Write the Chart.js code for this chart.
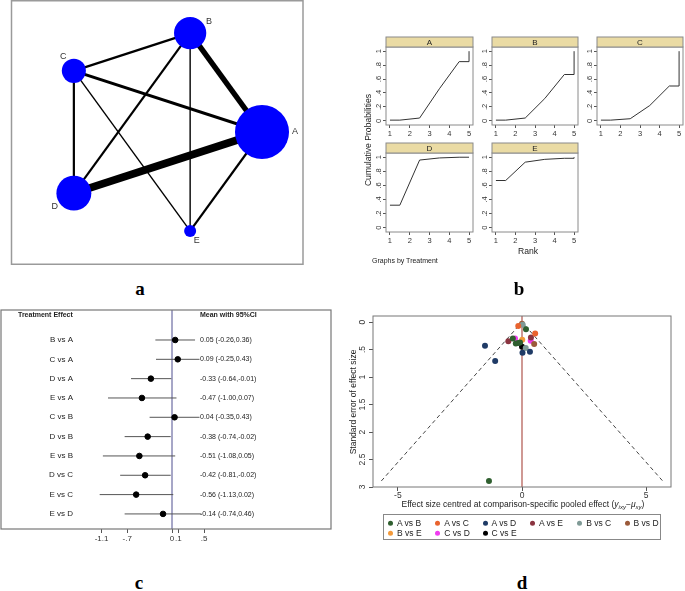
<!DOCTYPE html>
<html><head><meta charset="utf-8">
<script src="https://cdn.jsdelivr.net/npm/chart.js@4.4.1/dist/chart.umd.min.js"></script>
<style>
html,body{margin:0;padding:0;background:#fff;}
body{width:685px;height:591px;position:relative;overflow:hidden;font-family:"Liberation Sans",Arial,sans-serif;color:#222;}
.cv{position:absolute;}
.t{position:absolute;white-space:nowrap;line-height:1;}
.rot{transform:translate(-50%,-50%) rotate(-90deg);}
.ctr{transform:translate(-50%,-50%);}
.lab{position:absolute;font-family:"Liberation Serif","Times New Roman",serif;font-weight:bold;font-size:19px;line-height:1;transform:translate(-50%,-50%);color:#000;}
#legend{position:absolute;left:383px;top:514px;width:278px;height:26px;border:1px solid #888;box-sizing:border-box;}
.li{position:absolute;font-size:8.5px;white-space:nowrap;line-height:1;transform:translateY(-50%);}
.li i{display:inline-block;width:5px;height:5px;border-radius:50%;margin-right:4px;vertical-align:0px;}
</style></head><body>

<canvas id="net" class="cv" style="left:0;top:0" width="310" height="270"></canvas>
<canvas id="rA" class="cv"></canvas>
<canvas id="rB" class="cv"></canvas>
<canvas id="rC" class="cv"></canvas>
<canvas id="rD" class="cv"></canvas>
<canvas id="rE" class="cv"></canvas>
<canvas id="forest" class="cv" style="left:0;top:308px" width="335" height="241"></canvas>
<canvas id="funnel" class="cv" style="left:340px;top:305px" width="345" height="200"></canvas>

<div class="t rot" style="left:368px;top:140px;font-size:8.6px">Cumulative Probabilities</div>
<div class="t ctr" style="left:528px;top:251px;font-size:8.6px">Rank</div>
<div class="t" style="left:372px;top:257px;font-size:7px">Graphs by Treatment</div>
<div class="t rot" style="left:353px;top:402px;font-size:8.5px">Standard error of effect size</div>
<div class="t ctr" style="left:523px;top:505px;font-size:8.5px">Effect size centred at comparison-specific pooled effect (<i>y<sub style="font-size:6px">ixy</sub></i>−<i>μ<sub style="font-size:6px">xy</sub></i>)</div>
<div id="legend"></div>

<div class="lab" style="left:140px;top:288px">a</div>
<div class="lab" style="left:519px;top:288px">b</div>
<div class="lab" style="left:139px;top:582px">c</div>
<div class="lab" style="left:522px;top:582px">d</div>

<script>
// ---------- DATA ----------
const treatments = ['A','B','C','D','E'];
const nodeParticipants = [730, 260, 145, 305, 36];
const edgeFrom = ['A','A','A','A','B','B','B','C','C'];
const edgeTo   = ['B','C','D','E','C','D','E','D','E'];
const edgeStudies = [6, 3, 9, 2, 2, 2, 1, 2, 1];

const rankPositions = [1, 2, 3, 4, 5];
const cumA = [0.01, 0.04, 0.46, 0.85, 1.00];
const cumB = [0.01, 0.04, 0.32, 0.665, 1.00];
const cumC = [0.01, 0.03, 0.22, 0.50, 1.00];
const cumD = [0.32, 0.96, 0.99, 1.00, 1.00];
const cumE = [0.67, 0.93, 0.97, 0.985, 1.00];
const probTicks = [0, 0.2, 0.4, 0.6, 0.8, 1];
const probTickLabels = ['0', '.2', '.4', '.6', '.8', '1'];

const comparisons = ['B vs A','C vs A','D vs A','E vs A','C vs B','D vs B','E vs B','D vs C','E vs C','E vs D'];
const meanEffect = [0.05, 0.09, -0.33, -0.47, 0.04, -0.38, -0.51, -0.42, -0.56, -0.14];
const lowerCI = [-0.26, -0.25, -0.64, -1.00, -0.35, -0.74, -1.08, -0.81, -1.13, -0.74];
const upperCI = [0.36, 0.43, -0.01, 0.07, 0.43, -0.02, 0.05, -0.02, 0.02, 0.46];
const forestTicks = [-1.1, -0.7, 0, 0.1, 0.5];
const forestTickLabels = ['-1.1', '-.7', '0', '.1', '.5'];

const funnelGroups = ['A vs B','A vs C','A vs D','A vs E','B vs C','B vs D','B vs E','C vs D','C vs E'];
const funnelX = [
  [-1.33, 0.16, -0.37, -0.25, -0.15, -0.08],
  [-0.15, 0.53],
  [-1.49, -1.08, 0.02, 0.32],
  [-0.55, 0.36],
  [0.03, 0.15],
  [0.00, 0.49],
  [0.01],
  [-0.28, 0.35],
  [0.00]
];
const funnelSE = [
  [2.89, 0.13, 0.30, 0.39, 0.38, 0.37],
  [0.07, 0.21],
  [0.43, 0.71, 0.56, 0.54],
  [0.35, 0.28],
  [0.05, 0.47],
  [0.03, 0.40],
  [0.32],
  [0.30, 0.34],
  [0.45]
];
const funnelYTicks = [0, 0.5, 1, 1.5, 2, 2.5, 3];
const funnelYLabels = ['0', '.5', '1', '1.5', '2', '2.5', '3'];
const funnelXTicks = [-5, 0, 5];
const funnelXLabels = ['-5', '0', '5'];

// ---------- STYLE ----------
const groupColors = ['#2f5f2f','#e9632e','#1f3b66','#8a3440','#7f9a96','#9b5a3a','#f39a3b','#f03cf0','#000000'];
const FONT = '"Liberation Sans", Arial, sans-serif';
Chart.defaults.font.family = FONT;
Chart.defaults.color = '#333';
Chart.defaults.animation = false;
Chart.defaults.responsive = false;
Chart.defaults.devicePixelRatio = 1;
Chart.defaults.layout.autoPadding = false;
Chart.defaults.plugins.legend.display = false;
Chart.defaults.plugins.tooltip.enabled = false;

function boxPlugin(color, width){
  return {id:'box'+Math.floor(Math.random()*1e6), afterDraw(chart){
    const a = chart.chartArea, c = chart.ctx;
    c.save(); c.strokeStyle = color; c.lineWidth = width;
    c.strokeRect(a.left, a.top, a.right - a.left, a.bottom - a.top);
    c.restore();
  }};
}
function fixedTicks(vals){ return s => { s.ticks = vals.map(v => ({value: v})); }; }

// ---------- (a) NETWORK ----------
(function(){
  const idx = t => treatments.indexOf(t);
  const pos = treatments.map((t, i) => ({x: Math.cos(2*Math.PI*i/5), y: Math.sin(2*Math.PI*i/5)}));
  const ds = [{
    type: 'bubble',
    data: treatments.map((t, i) => ({x: pos[i].x, y: pos[i].y, r: Math.sqrt(nodeParticipants[i])})),
    backgroundColor: '#0000ff', borderColor: '#0000ff', borderWidth: 0
  }];
  edgeFrom.forEach((f, k) => {
    ds.push({type: 'line', data: [pos[idx(f)], pos[idx(edgeTo[k])]],
      borderColor: '#000', borderWidth: 0.8*edgeStudies[k] + 0.6, pointRadius: 0, fill: false});
  });
  const labelAngles = [0, 31, 126, 215, 303];
  new Chart(document.getElementById('net'), {
    type: 'scatter',
    data: {datasets: ds},
    options: {
      layout: {padding: 0, autoPadding: false},
      scales: {
        x: {display: false, min: -158/104, max: 152/104},
        y: {display: false, min: -138/104, max: 132/104}
      }
    },
    plugins: [{id: 'netdeco',
      beforeDraw(chart){
        const c = chart.ctx; c.save(); c.strokeStyle = '#9a9a9a'; c.lineWidth = 1.5;
        c.strokeRect(11.5, 0.75, 291.5, 263.5); c.restore();
      },
      afterDatasetsDraw(chart){
        const c = chart.ctx, meta = chart.getDatasetMeta(0);
        c.save(); c.fillStyle = '#333'; c.font = '9px ' + FONT;
        c.textAlign = 'center'; c.textBaseline = 'middle';
        meta.data.forEach((el, i) => {
          const d = Math.sqrt(nodeParticipants[i]) + 6, a = labelAngles[i]*Math.PI/180;
          c.fillText(treatments[i], el.x + d*Math.cos(a), el.y - d*Math.sin(a));
        });
        c.restore();
      }}]
  });
})();

// ---------- (b) RANKOGRAMS ----------
const rankPanels = [
  {id: 'rA', name: 'A', v: cumA, left: 386, top: 47,  w: 87, h: 78},
  {id: 'rB', name: 'B', v: cumB, left: 492, top: 47,  w: 86, h: 78},
  {id: 'rC', name: 'C', v: cumC, left: 597, top: 47,  w: 86, h: 78},
  {id: 'rD', name: 'D', v: cumD, left: 386, top: 153, w: 87, h: 79},
  {id: 'rE', name: 'E', v: cumE, left: 492, top: 153, w: 86, h: 79}
];
function stepPoints(c){
  const r = rankPositions, pts = [{x: r[0], y: c[0]}];
  for (let i = 0; i < r.length - 1; i++) pts.push({x: (r[i] + r[i+1]) / 2, y: c[i]});
  pts.push({x: r[r.length-1], y: c[c.length-2]});
  pts.push({x: r[r.length-1], y: c[c.length-1]});
  return pts;
}
rankPanels.forEach(p => {
  const cv = document.getElementById(p.id);
  const L = 24, T = 11, R = 2, B = 17;
  cv.width = p.w + L + R; cv.height = p.h + T + B;
  cv.style.left = (p.left - L) + 'px'; cv.style.top = (p.top - T) + 'px';
  new Chart(cv, {
    type: 'scatter',
    data: {datasets: [{type: 'line', data: stepPoints(p.v), borderColor: '#333', borderWidth: 1, pointRadius: 0, tension: 0}]},
    options: {
      layout: {padding: {left: 0, top: T, right: R, bottom: 0}},
      scales: {
        x: {type: 'linear', min: 0.8, max: 5.2, afterBuildTicks: fixedTicks(rankPositions),
            ticks: {font: {size: 7.5}, color: '#333', padding: 1, maxRotation: 0, autoSkip: false},
            grid: {display: true, drawOnChartArea: false, tickLength: 3, color: '#555'},
            border: {display: false}, afterFit: s => { s.height = B; }},
        y: {type: 'linear', min: -0.06, max: 1.06, afterBuildTicks: fixedTicks(probTicks),
            ticks: {font: {size: 7.5}, color: '#333', padding: 1, minRotation: 90, maxRotation: 90, crossAlign: 'center', autoSkip: false,
                    callback: (v, i) => probTickLabels[i]},
            grid: {display: true, drawOnChartArea: false, tickLength: 3, color: '#555'},
            border: {display: false}, afterFit: s => { s.width = L; }}
      }
    },
    plugins: [boxPlugin('#8a8a8a', 1), {id: 'hdr', afterDraw(chart){
      const a = chart.chartArea, c = chart.ctx;
      c.save(); c.fillStyle = '#eadba4'; c.strokeStyle = '#8a8a8a'; c.lineWidth = 1;
      c.fillRect(a.left, a.top - 10, a.right - a.left, 10);
      c.strokeRect(a.left, a.top - 10, a.right - a.left, 10);
      c.fillStyle = '#222'; c.font = '8px ' + FONT; c.textAlign = 'center'; c.textBaseline = 'middle';
      c.fillText(p.name, (a.left + a.right)/2, a.top - 4.5);
      c.restore();
    }}]
  });
});

// ---------- (c) FOREST ----------
(function(){
  const ds = [{type: 'scatter', data: meanEffect.map((m, i) => ({x: m, y: i})), backgroundColor: '#000', borderColor: '#000', pointRadius: 2.8}];
  comparisons.forEach((c, i) => {
    ds.push({type: 'line', data: [{x: lowerCI[i], y: i}, {x: upperCI[i], y: i}], borderColor: '#555', borderWidth: 1, pointRadius: 0});
  });
  new Chart(document.getElementById('forest'), {
    type: 'scatter',
    data: {datasets: ds},
    options: {
      layout: {padding: {left: 1, top: 2, right: 4, bottom: 0}},
      scales: {
        x: {type: 'linear', min: -171/64, max: 159/64, afterBuildTicks: fixedTicks(forestTicks),
            ticks: {font: {size: 8}, color: '#333', padding: 1, maxRotation: 0, minRotation: 0, autoSkip: false,
                    callback: (v, i) => forestTickLabels[i]},
            grid: {display: true, drawOnChartArea: false, tickLength: 4, color: '#555'},
            border: {display: false}, afterFit: s => { s.height = 20; }},
        y: {display: false, min: -1.552, max: 9.78, reverse: true}
      }
    },
    plugins: [boxPlugin('#777', 1.2), {id: 'forestText',
      beforeDatasetsDraw(chart){
        const c = chart.ctx, a = chart.chartArea, xs = chart.scales.x, ys = chart.scales.y;
        const x0 = xs.getPixelForValue(0);
        c.save(); c.strokeStyle = '#4f4f8f'; c.lineWidth = 1;
        c.beginPath(); c.moveTo(x0, a.top); c.lineTo(x0, a.bottom); c.stroke();
        c.fillStyle = '#222'; c.textBaseline = 'middle';
        c.font = 'bold 7px ' + FONT; c.textAlign = 'left';
        c.fillText('Treatment Effect', a.left + 17, a.top + 5.5);
        c.fillText('Mean with 95%CI', a.left + 199, a.top + 5.5);
        comparisons.forEach((lab, i) => {
          const y = ys.getPixelForValue(i);
          c.font = '8px ' + FONT; c.textAlign = 'right';
          c.fillText(lab, a.left + 72, y);
          c.font = '7px ' + FONT; c.textAlign = 'left';
          c.fillText(meanEffect[i].toFixed(2) + ' (' + lowerCI[i].toFixed(2) + ',' + upperCI[i].toFixed(2) + ')', a.left + 199, y);
        });
        c.restore();
      }}]
  });
})();

// ---------- (d) FUNNEL ----------
(function(){
  const ds = funnelGroups.map((g, k) => ({
    type: 'scatter', label: g,
    data: funnelX[k].map((x, j) => ({x: x, y: funnelSE[k][j]})),
    backgroundColor: groupColors[k], borderColor: groupColors[k], borderWidth: 0, pointRadius: 3
  }));
  const seMax = Math.max(...funnelSE.flat());
  ds.push({type: 'line', data: [{x: -1.96*seMax, y: seMax}, {x: 0, y: 0}, {x: 1.96*seMax, y: seMax}],
    borderColor: '#444', borderWidth: 1, borderDash: [4, 3], pointRadius: 0});
  ds.push({type: 'line', data: [{x: 0, y: -0.11}, {x: 0, y: 3}], borderColor: '#b0554d', borderWidth: 1.2, pointRadius: 0});
  new Chart(document.getElementById('funnel'), {
    type: 'scatter',
    data: {datasets: ds},
    options: {
      layout: {padding: {left: 13, top: 11, right: 14, bottom: 4}},
      scales: {
        x: {type: 'linear', min: -6, max: 6, afterBuildTicks: fixedTicks(funnelXTicks),
            ticks: {font: {size: 8.5}, color: '#333', padding: 0, maxRotation: 0, autoSkip: false,
                    callback: (v, i) => funnelXLabels[i]},
            grid: {display: true, drawOnChartArea: false, tickLength: 4, color: '#555'},
            border: {display: false}, afterFit: s => { s.height = 14; }},
        y: {type: 'linear', min: -0.11, max: 3, reverse: true, afterBuildTicks: fixedTicks(funnelYTicks),
            ticks: {font: {size: 8.5}, color: '#333', padding: 0, minRotation: 90, maxRotation: 90, crossAlign: 'center', autoSkip: false,
                    callback: (v, i) => funnelYLabels[i]},
            grid: {display: true, drawOnChartArea: false, tickLength: 4, color: '#555'},
            border: {display: false}, afterFit: s => { s.width = 20; }}
      }
    },
    plugins: [boxPlugin('#777', 1)]
  });
  const lg = document.getElementById('legend');
  funnelGroups.forEach((g, k) => {
    const d = document.createElement('div');
    d.className = 'li';
    d.style.left = (4 + (k % 6) * 47.3) + 'px';
    d.style.top = (k < 6 ? 8 : 18) + 'px';
    d.innerHTML = '<i style="background:' + groupColors[k] + '"></i>' + g;
    lg.appendChild(d);
  });
})();
</script>
</body></html>
